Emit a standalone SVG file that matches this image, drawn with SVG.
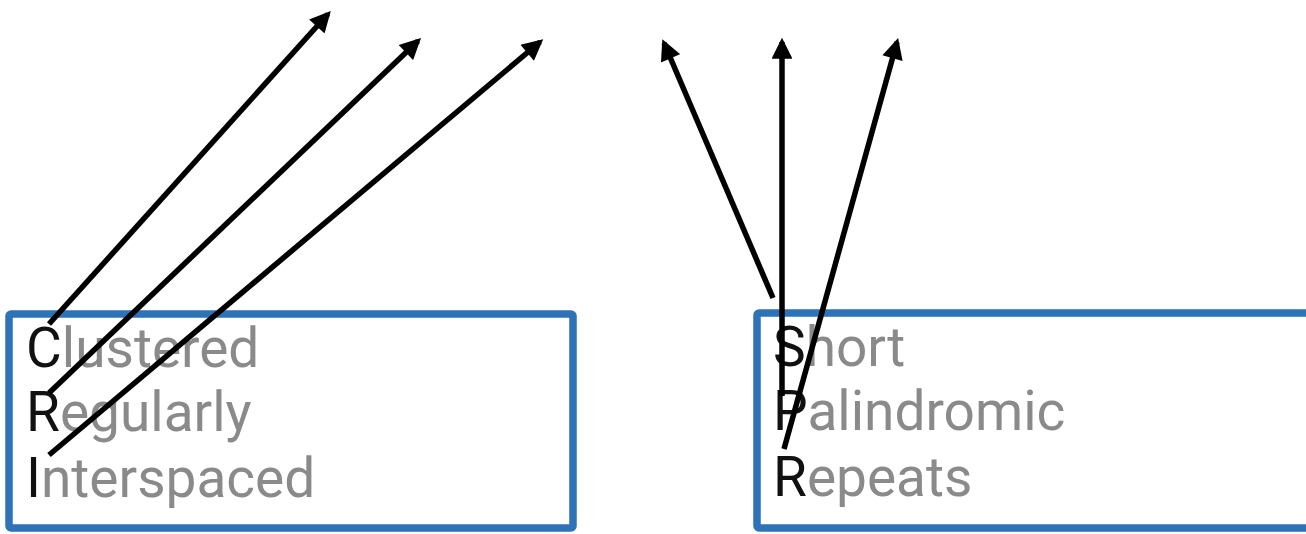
<svg xmlns="http://www.w3.org/2000/svg" width="1306" height="534" viewBox="0 0 1306 534">
<style>
.box{fill:#ffffff;stroke:#2e72b8;stroke-width:7.5}
.t{font-family:Roboto,"Liberation Sans",sans-serif;font-size:55px;fill:#8a8a8a}
.f{fill:#111111}
.c{stroke:#000;stroke-width:5.5;fill:none;marker-end:url(#ah)}
</style>
<defs>
<marker id="ah" viewBox="0 0 10 10" refX="8" refY="5" markerWidth="4" markerHeight="3.8" orient="auto" markerUnits="strokeWidth">
<path d="M0,0 L10,5 L0,10 z" fill="#000"/>
</marker>
</defs>
<g id="left">
<rect class="box" x="9" y="314" width="564" height="214" rx="2"/>
<text class="t" x="26" y="367"><tspan class="f">C</tspan>lustered</text>
<text class="t" x="26" y="431"><tspan class="f">R</tspan>egularly</text>
<text class="t" x="26" y="497"><tspan class="f">I</tspan>nterspaced</text>
</g>
<g id="right">
<rect class="box" x="757" y="313" width="560" height="215" rx="2"/>
<text class="t" x="773" y="366"><tspan class="f">S</tspan>hort</text>
<text class="t" x="773" y="430"><tspan class="f">P</tspan>alindromic</text>
<text class="t" x="773" y="496"><tspan class="f">R</tspan>epeats</text>
</g>
<g id="connectors">
<line class="c" x1="49" y1="324" x2="328" y2="14"/>
<line class="c" x1="49" y1="393" x2="418" y2="41"/>
<line class="c" x1="49" y1="455" x2="540" y2="42"/>
<line class="c" x1="773" y1="298" x2="664" y2="43"/>
<line class="c" x1="782" y1="396" x2="782" y2="42"/>
<line class="c" x1="784" y1="449" x2="897" y2="42"/>
</g>
</svg>
